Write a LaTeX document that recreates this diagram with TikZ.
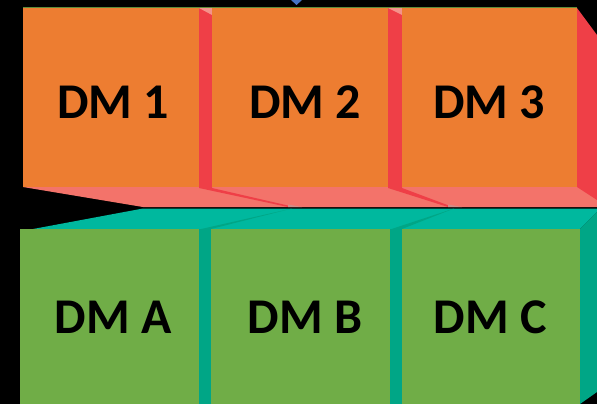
\documentclass[tikz,border=0pt]{standalone}
\usepackage{fontspec}
\setmainfont{Carlito}
\definecolor{frontor}{HTML}{ED7D31}
\definecolor{frontgr}{HTML}{70AD47}
\definecolor{sidered}{HTML}{EF3F47}
\definecolor{bottomsal}{HTML}{F3736A}
\definecolor{pinklt}{HTML}{F4938A}
\definecolor{topteal}{HTML}{00B89E}
\definecolor{sideteal}{HTML}{00A686}
\definecolor{edgegr}{HTML}{5E8C3A}
\definecolor{tipblue}{HTML}{4472C4}

\begin{document}
\begin{tikzpicture}[x=1pt,y=-1pt,line join=round,
    lbl/.style={font=\bfseries\fontsize{50}{50}\selectfont,text=black,inner sep=0pt}]
  \fill[black] (0,0) rectangle (597,404);
  \useasboundingbox (0,0) rectangle (597,404);
  % blue tip above
  \fill[tipblue] (291,0) -- (302,0) -- (296.5,5) -- cycle;
  % upper row: underside and right face
  \fill[bottomsal] (23,187) -- (597,187) -- (597,207) -- (143,207) -- cycle;
  \fill[sidered] (577,8) -- (597,35) -- (597,200) -- (577,187) -- cycle;
  \foreach \a/\b/\c in {199/212/290,388/402/450}{
    \fill[sidered] (\a,8) -- (\b,8) -- (\b,188) -- (\c,206) -- (\c-2,207) -- (\a,188) -- cycle;
    \fill[pinklt] (\a,8) -- (\b,8) -- (\b,15) -- cycle;
    \fill[pinklt!70!gray] (\c-2,204.5) -- (\c+12,207) -- (\c-2,207) -- cycle;
  }
  % lower row: top side and right face
  \fill[topteal] (33,229) -- (143,208.5) -- (597,208.5) -- (597,212) -- (580,229) -- cycle;
  \fill[sideteal] (580,229) -- (597,212) -- (597,392) -- (580,404) -- cycle;
  \foreach \a/\b/\c in {199/211/292,390/402/454}{
    \fill[sideteal] (\a,229) -- (\b,229) -- (\b,404) -- (\a,404) -- cycle;
    \fill[sideteal] (\a,229.5) -- (\b,229) -- (\c,208.5) -- cycle;
  }
  % front faces
  \foreach \l/\r in {23/199,212/388,402/577}
    \fill[frontor] (\l,8) rectangle (\r,187);
  \draw[edgegr,line width=0.8] (23,7.6) -- (577,7.6);
  \foreach \l/\r in {20/199,211/390,402/580}
    \fill[frontgr] (\l,229) rectangle (\r,404);
  % labels
  \node[lbl] (dm1) at (113,102.5) {DM 1};
  \node[lbl] (dm2) at (305,102.5) {DM 2};
  \node[lbl] (dm3) at (489,102.5) {DM 3};
  \node[lbl] (dma) at (113,317.5) {DM A};
  \node[lbl] (dmb) at (305,317.5) {DM B};
  \node[lbl] (dmc) at (490,317.5) {DM C};
\end{tikzpicture}
\end{document}
